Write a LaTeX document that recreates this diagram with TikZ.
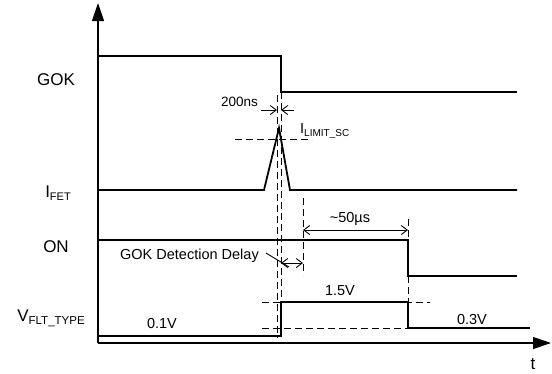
\documentclass[tikz,border=0pt]{standalone}
\usepackage{fontspec}
\setmainfont{Liberation Sans}
\usetikzlibrary{arrows.meta}

\newcommand{\lowtxt}[2][10]{\raisebox{-3pt}{\fontsize{#1}{#1}\selectfont #2}}

\begin{document}
\begin{tikzpicture}[x=1pt, y=-1pt,
    sig/.style={line width=1.8pt, line join=miter},
    axis/.style={line width=1.2pt, -{Triangle[length=18pt,width=12pt]}},
    guide/.style={line width=0.9pt, dash pattern=on 7pt off 4pt},
    dim/.style={line width=0.9pt, {Straight Barb[length=6pt,width=9pt]}-{Straight Barb[length=6pt,width=9pt]}},
    pin/.style={line width=0.9pt, -{Straight Barb[length=6pt,width=9pt]}},
    lbl/.style={font=\fontsize{17}{19}\selectfont, inner sep=0pt},
    val/.style={font=\fontsize{14.5}{16}\selectfont, inner sep=0pt}]
    \useasboundingbox (0,0) rectangle (552,373);

    % axes
    \coordinate (o) at (98,343);
    \coordinate (ytop) at (98,3);
    \coordinate (xend) at (551,343);
    \draw[axis] (o) -- (ytop);
    \draw[axis] (o) -- (xend);
    \node[lbl] (t) at (533,364) {t};

    % signal names
    \node[lbl] (gok) at (56,80) {GOK};
    \node[lbl] (ifet) at (58,193) {I\lowtxt[11]{FET}};
    \node[lbl] (on) at (56,247) {ON};
    \node[lbl] (vflt) at (51,318) {V\lowtxt[11.5]{FLT\_TYPE}};

    % waveforms
    \draw[sig] (98,56) -- (281,56) -- (281,92) -- (517,92);
    \draw[sig] (98,190) -- (264,190) -- (279,128) -- (290,190) -- (517,190);
    \draw[sig] (98,240) -- (408,240) -- (408,276) -- (517,276);
    \draw[sig] (98,336) -- (281,336) -- (281,302) -- (408,302) -- (408,328) -- (530,328);

    % guide lines
    \draw[guide] (277,95) -- (277,338);
    \draw[guide] (281,92) -- (281,302);
    \draw[guide] (235,139) -- (312,139);
    \draw[guide] (303,198) -- (303,275);
    \draw[guide] (408,219) -- (408,240);
    \draw[guide] (408,276) -- (408,302);
    \draw[guide] (262,302) -- (430,302);
    \draw[guide] (262,328) -- (408,328);

    % timings
    \draw[pin] (261,110) -- (277,110);
    \draw[pin] (294,110) -- (281,110);
    \node[val, font=\fontsize{13.5}{15}\selectfont, anchor=east] (tns) at (258,102) {200ns};
    \node[val, anchor=west] (ilim) at (300,131) {I\lowtxt{LIMIT\_SC}};
    \draw[dim] (303,230) -- (408,230);
    \node[val] (tus) at (350,219) {\textasciitilde50µs};
    \draw[dim] (281,263) -- (303,263);
    \draw[line width=0.9pt] (266,253) -- (289,267);
    \node[val, anchor=east] (delay) at (259,256) {GOK Detection Delay};

    % levels
    \node[val] (v1) at (162,324) {0.1V};
    \node[val] (v2) at (340,291) {1.5V};
    \node[val] (v3) at (472,320) {0.3V};
\end{tikzpicture}
\end{document}
